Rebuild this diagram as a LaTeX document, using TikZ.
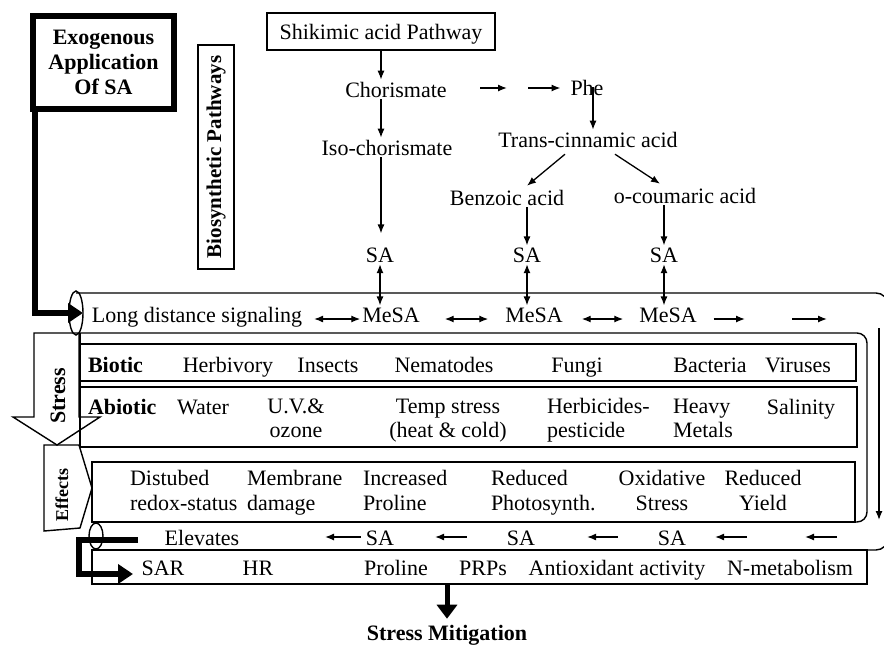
\documentclass[tikz,border=0pt]{standalone}
\usepackage{fontspec}
\setmainfont{Liberation Serif}
\usetikzlibrary{arrows.meta}
\begin{document}
\begin{tikzpicture}[x=1pt,y=-1pt,
  lbl/.style={font=\fontsize{22}{24}\selectfont, inner sep=0pt, outer sep=2pt},
  blbl/.style={lbl, font=\bfseries\fontsize{22}{24}\selectfont},
  two/.style={lbl, outer sep=0pt, align=left, anchor=north west, execute at begin node={\rule{0pt}{16pt}}},
  twoc/.style={lbl, outer sep=0pt, align=center, anchor=north, execute at begin node={\rule{0pt}{16pt}}},
  twoe/.style={two, font=\fontsize{22}{25}\selectfont},
  twoce/.style={twoc, font=\fontsize{22}{25}\selectfont},
  ln/.style={line width=1.4pt},
  arr/.style={line width=1.3pt, -{Latex[length=9pt,width=7pt]}},
  darr/.style={line width=1.3pt, {Latex[length=9pt,width=7pt]}-{Latex[length=9pt,width=7pt]}},
  fatarr/.style={line width=6pt, -{Triangle[length=15pt,width=19pt]}}
]
\path[use as bounding box, fill=white] (0,0) rectangle (884,646);

% ---- frames of the lower part ----
\draw[ln, rounded corners=12pt] (76,293) -- (888,293) -- (888,550) -- (92,550);
\draw[ln] (80,445) -- (80,333);
\draw[ln, rounded corners=10pt] (80,333) -- (867,333) -- (867,522) -- (92,522);
\draw[ln] (80,344) rectangle (856,381);
\draw[ln] (80,387) rectangle (857,447);
\draw[ln] (92,462) rectangle (855,522);
\node[ln, draw, minimum width=775pt, minimum height=34pt, inner sep=0pt] (sarbox) at (479.5,567) {};
\draw[ln] (76,313) ellipse [x radius=7, y radius=22];
\draw[ln] (96,536) ellipse [x radius=7, y radius=13];
\coordinate (r1) at (879,328);
\coordinate (r2) at (879,520);
\draw[arr] (r1) -- (r2);

% ---- Stress arrow and Effects pentagon ----
\draw[ln] (34,333) -- (79,333) -- (79,417) -- (100,417) -- (57,445) -- (13,417) -- (34,417) -- cycle;
\node[blbl, rotate=90] (stress) at (58,396) {Stress};
\draw[ln] (44,445) -- (79,445) -- (92,488) -- (80,528) -- (44,531) -- cycle;
\node[blbl, rotate=90, font=\bfseries\fontsize{18}{20}\selectfont] (eff) at (62,495) {Effects};

% ---- Exogenous application ----
\node[draw, line width=6pt, outer sep=0pt, minimum width=141pt, minimum height=93pt,
      align=center, font=\bfseries\fontsize{22}{25}\selectfont] (exo) at (103.5,62.5)
      {Exogenous\\Application\\Of SA};
\coordinate (entry) at (83,313);
\draw[fatarr] ([xshift=2pt]exo.south west) |- (entry);

% ---- Biosynthetic pathways label ----
\node[draw, ln, rotate=90, minimum width=224pt, minimum height=36pt, inner sep=0pt,
      font=\bfseries\fontsize{21}{24}\selectfont] (bio) at (216,157) {Biosynthetic Pathways};

% ---- biosynthesis ----
\node[draw, ln, minimum width=228pt, minimum height=37pt, inner sep=0pt, text depth=0pt,
      font=\fontsize{22}{24}\selectfont] (shik) at (381,31.5) {Shikimic acid Pathway};
\node[lbl, anchor=base] (chor) at (396,97) {Chorismate};
\node[lbl, anchor=base] (iso) at (387,155) {Iso-chorismate};
\node[lbl, anchor=base] (phe) at (587,95) {Phe};
\node[lbl, anchor=base] (trans) at (588,147) {Trans-cinnamic acid};
\node[lbl, anchor=base] (benz) at (507,205) {Benzoic acid};
\node[lbl, anchor=base] (ocou) at (685,203) {o-coumaric acid};
\node[lbl, anchor=base] (sa1) at (380,262) {SA};
\node[lbl, anchor=base] (sa2) at (527,262) {SA};
\node[lbl, anchor=base] (sa3) at (664,262) {SA};

\draw[arr] (shik.south) -- (shik.south |- chor.north);
\draw[arr] (chor.south -| shik.south) -- (iso.north -| shik.south);
\draw[arr, shorten >=12pt] (iso.south -| shik.south) -- (sa1.north -| shik.south);
\coordinate (ch1) at (480,88);
\coordinate (ch2) at (507,88);
\coordinate (ch3) at (528,88);
\draw[arr] (ch1) -- (ch2);
\draw[arr, shorten >=8pt] (ch3) -- (phe.west |- ch3);
\draw[arr] ([xshift=6pt]phe.center) -- ([xshift=6pt]phe.center |- trans.north);
\draw[arr] ([xshift=-23pt,yshift=-5pt]trans.south) -- ([xshift=20pt,yshift=2pt]benz.north);
\draw[arr] ([xshift=27pt,yshift=-5pt]trans.south) -- ([xshift=-25pt,yshift=2pt]ocou.north);
\draw[arr] (benz.south -| sa2.north) -- (sa2.north);
\draw[arr] (ocou.south -| sa3.north) -- (sa3.north);

% ---- long distance signalling row ----
\coordinate (rowA) at (0,319);
\node[lbl, anchor=base] (lds) at (197,322) {Long distance signaling};
\node[lbl, anchor=base] (mesa1) at (391,322) {MeSA};
\node[lbl, anchor=base] (mesa2) at (534,322) {MeSA};
\node[lbl, anchor=base] (mesa3) at (668,322) {MeSA};
\draw[darr] (sa1.south) -- (sa1.south |- mesa1.north);
\draw[darr] (sa2.south) -- (sa2.south |- mesa2.north);
\draw[darr] (sa3.south) -- (sa3.south |- mesa3.north);
\draw[darr, shorten <=10pt] (lds.east |- rowA) -- (mesa1.west |- rowA);
\draw[darr, shorten <=23pt, shorten >=15pt] (mesa1.east |- rowA) -- (mesa2.west |- rowA);
\draw[darr, shorten <=17pt, shorten >=14pt] (mesa2.east |- rowA) -- (mesa3.west |- rowA);
\coordinate (m2) at (745,319);
\coordinate (m3) at (792,319);
\coordinate (m4) at (827,319);
\draw[arr, shorten <=15pt] (mesa3.east |- rowA) -- (m2);
\draw[arr] (m3) -- (m4);

% ---- biotic row ----
\node[blbl, anchor=base west] (biotic) at (86,372) {Biotic};
\node[lbl, anchor=base] (herb) at (228,372) {Herbivory};
\node[lbl, anchor=base] (ins) at (328,372) {Insects};
\node[lbl, anchor=base] (nem) at (444,372) {Nematodes};
\node[lbl, anchor=base] (fun) at (577,372) {Fungi};
\node[lbl, anchor=base] (bac) at (710,372) {Bacteria};
\node[lbl, anchor=base] (vir) at (798,372) {Viruses};

% ---- abiotic row ----
\node[blbl, anchor=base west] (abiotic) at (86,414) {Abiotic};
\node[lbl, anchor=base] (water) at (203,414) {Water};
\node[twoc] (uv) at (296,399) {U.V.\&\\ozone};
\node[twoc] (temp) at (448,399) {Temp stress\\(heat \& cold)};
\node[two] (herbi) at (547,398) {Herbicides-\\pesticide};
\node[two] (heavy) at (673,399) {Heavy\\Metals};
\node[lbl, anchor=base] (sal) at (801,414) {Salinity};

% ---- effects row ----
\node[twoe] (dist) at (130,470) {Distubed\\redox-status};
\node[twoe] (memb) at (247,470) {Membrane\\damage};
\node[twoe] (incr) at (363,470) {Increased\\Proline};
\node[twoe] (redp) at (491,470) {Reduced\\Photosynth.};
\node[twoce] (oxid) at (662,470) {Oxidative\\Stress};
\node[twoce] (redy) at (763,470) {Reduced\\Yield};

% ---- SA row ----
\coordinate (rowB) at (0,537);
\node[lbl, anchor=base] (elev) at (202,545) {Elevates};
\node[lbl, anchor=base] (sab1) at (380,545) {SA};
\node[lbl, anchor=base] (sab2) at (521,545) {SA};
\node[lbl, anchor=base] (sab3) at (672,545) {SA};
\coordinate (b1) at (325,537);
\draw[arr, shorten <=3pt] (sab1.west |- rowB) -- (b1);
\draw[arr, shorten <=38pt, shorten >=39pt] (sab2.west |- rowB) -- (sab1.east |- rowB);
\draw[arr, shorten <=38pt, shorten >=50pt] (sab3.west |- rowB) -- (sab2.east |- rowB);
\coordinate (b4) at (747,537);
\draw[arr, shorten >=27pt] (b4) -- (sab3.east |- rowB);
\coordinate (b5s) at (837,537);
\coordinate (b5e) at (805,537);
\draw[arr] (b5s) -- (b5e);

% ---- SAR row ----
\node[lbl, anchor=base] (sar) at (163,575) {SAR};
\node[lbl, anchor=base] (hr) at (258,575) {HR};
\node[lbl, anchor=base] (prol) at (396,575) {Proline};
\node[lbl, anchor=base] (prp) at (483,575) {PRPs};
\node[lbl, anchor=base] (anti) at (617,575) {Antioxidant activity};
\node[lbl, anchor=base] (nmet) at (790,575) {N-metabolism};

\coordinate (elevout) at (138,540);
\coordinate (elevcorner) at (79,540);
\coordinate (sarin) at (133,574);
\draw[fatarr] (elevout) -- (elevcorner) |- (sarin);

% ---- stress mitigation ----
\node[blbl, anchor=base] (mit) at (447,640) {Stress Mitigation};
\draw[line width=5pt, -{Triangle[length=14pt,width=20pt]}, shorten >=4pt] (sarbox.south -| mit.north) -- (mit.north);
\end{tikzpicture}
\end{document}
